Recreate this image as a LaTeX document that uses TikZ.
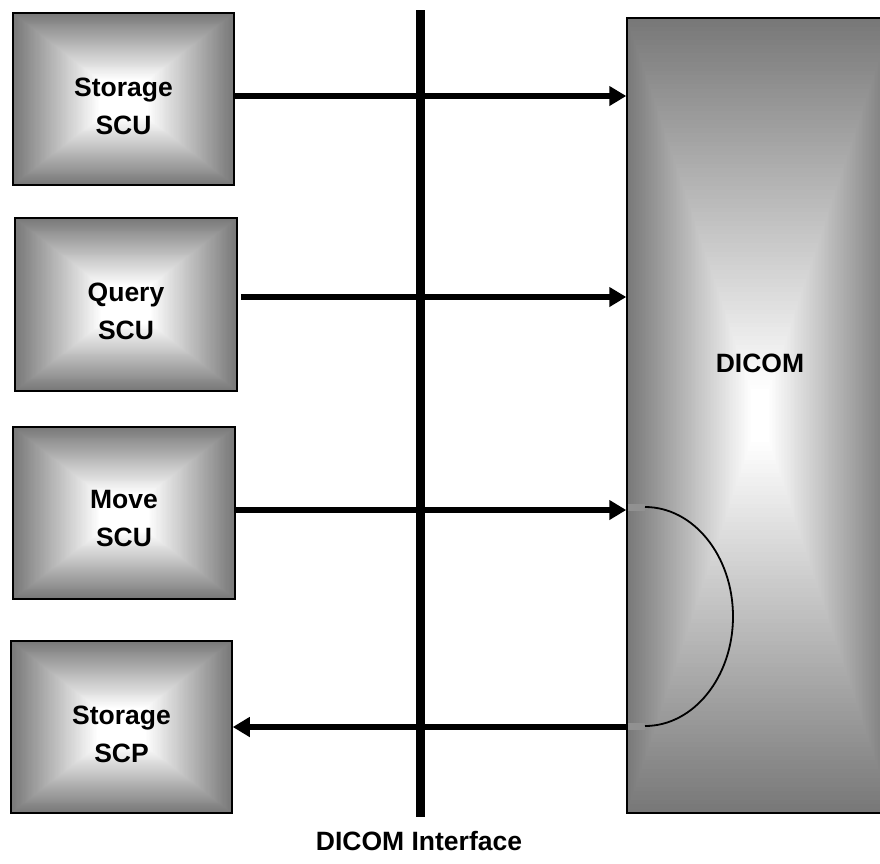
\documentclass[tikz,border=0pt]{standalone}
\usepackage{fontspec}
\setmainfont{Liberation Sans}
\usetikzlibrary{arrows.meta,calc}
\definecolor{edgegray}{gray}{0.47}
\definecolor{stubgray}{gray}{0.57}
\tikzset{
  pyr/.style={draw, line width=1.5pt, inner sep=0pt, path picture={
    \foreach \k in {0,...,89} {
      \pgfmathsetmacro\s{1-\k/90}
      \pgfmathsetmacro\p{min(100,100*\k/#1)}
      \fill[white!\p!edgegray]
        ($(path picture bounding box.center)!\s!(path picture bounding box.north west)$)
        rectangle
        ($(path picture bounding box.center)!\s!(path picture bounding box.south east)$);
    }
  }},
  pyr/.default=70,
  smallbox/.style={pyr, minimum width=221pt, minimum height=172pt},
  lbl/.style={font=\bfseries\fontsize{26.5}{38}\selectfont, align=center, inner sep=0pt},
  arr/.style={line width=6.5pt, -{Triangle[length=17pt,width=19pt]}},
  stub/.style={stubgray, line width=7pt},
  arcline/.style={line width=1.8pt},
  bar/.style={line width=9pt}
}
\begin{document}
\begin{tikzpicture}[x=1pt,y=-1pt]
\useasboundingbox (0,0) rectangle (880,863);
\clip (0,0) rectangle (880,863);
% boxes
\node[pyr=84, minimum width=266pt, minimum height=795pt] (dicom) at (760,415.5) {};
\node[smallbox] (b1) at (123.5,99) {};
\node[smallbox, minimum width=222pt, minimum height=173pt] (b2) at (126,304.5) {};
\node[smallbox, minimum width=222pt] (b3) at (124,513) {};
\node[smallbox] (b4) at (121.5,727) {};
% labels
\node[lbl] (t1) at ([yshift=-7pt]b1.center) {Storage\\SCU};
\node[lbl] (t2) at ([yshift=-7pt]b2.center) {Query\\SCU};
\node[lbl] (t3) at ([yshift=-6pt]b3.center) {Move\\SCU};
\node[lbl] (t4) at ([yshift=-7pt]b4.center) {Storage\\SCP};
\node[lbl] (td) at (760,363) {DICOM};
\node[lbl] (ti) at (419,841) {DICOM Interface};
% interface bar
\coordinate (bt) at (420,10);
\coordinate (bb) at (420,817);
\draw[bar] (bt) -- (bb);
% arrows
\draw[arr] ([yshift=3pt]b1.east) -- ([yshift=3pt]b1.east -| dicom.west);
\draw[arr] ([xshift=3pt,yshift=7.5pt]b2.east) -- ([yshift=7.5pt]b2.east -| dicom.west);
\draw[arr] ([yshift=3pt]b3.east) -- ([yshift=3pt]b3.east -| dicom.west);
\draw[arr] (b4.east -| dicom.west) -- (b4.east);
% internal arc
\coordinate (as) at (645,507);
\coordinate (am) at (733,616.5);
\coordinate (ae) at (645,726);
\draw[stub] (dicom.west |- as) ++(1.5,0) -- (as);
\draw[stub] (dicom.west |- ae) ++(1.5,0) -- (ae);
\draw[arcline] (as) .. controls (693.6,507) and (733,556.1) .. (am)
  .. controls (733,676.9) and (693.6,726) .. (ae);
\end{tikzpicture}
\end{document}
